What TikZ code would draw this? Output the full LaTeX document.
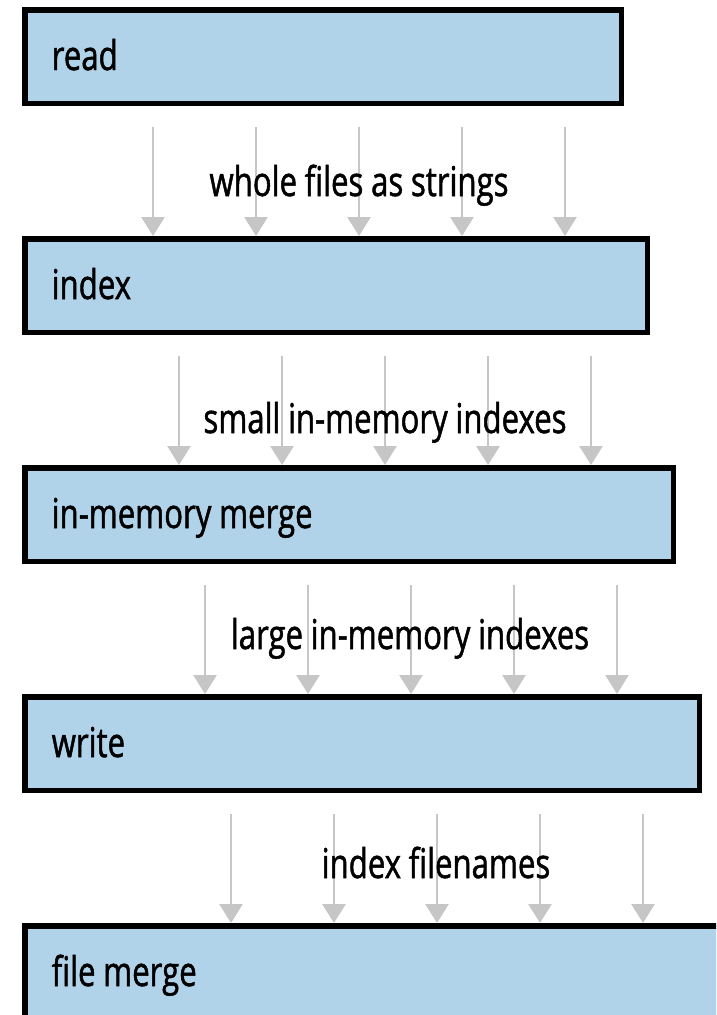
\documentclass[tikz,border=0pt]{standalone}
\usepackage{fontspec}
\setmainfont{Open Sans}[FakeStretch=0.76, FakeBold=1.2, WordSpace=0.95]
\usetikzlibrary{arrows.meta}
\definecolor{stageblue}{RGB}{176,211,233}
\definecolor{flowgray}{RGB}{198,198,198}
\tikzset{
  stage/.style={draw=black, line width=5.5pt, fill=stageblue, anchor=north west,
    inner xsep=27pt, minimum height=93.5pt, text height=40pt, text depth=13pt,
    text width=#1, align=left, execute at begin node={\spaceskip=0pt\xspaceskip=0pt}},
  flow/.style={->, draw=flowgray, line width=2.7pt},
  note/.style={anchor=base}
}
\begin{document}
\begin{tikzpicture}[x=1pt, y=-1pt, >={Triangle[width=23pt,length=19pt]},
  font=\fontsize{41}{48}\selectfont, text=black]
\useasboundingbox (0,0) rectangle (716,1015);
\clip (0,0) rectangle (716,1015);
\node[stage=542.5pt] (read) at (22,7) {read};
\node[stage=568.5pt] (index) at (22,236) {index};
\node[stage=594.5pt] (merge) at (22,465) {in-memory merge};
\node[stage=620.5pt] (write) at (22,694) {write};
\node[stage=646.5pt] (filemerge) at (22,923) {file merge};
\foreach \up/\down/\k in {read/index/0, index/merge/1, merge/write/2, write/filemerge/3} {
  \foreach \i in {0,...,4} {
    \coordinate (s\k\i) at (153+26*\k+103*\i, 127+229*\k);
    \draw[flow] (s\k\i) -- (\down.north -| s\k\i);
  }
}
\node[note] (t0) at (359,196) {whole files as strings};
\node[note] (t1) at (385,433) {small in-memory indexes};
\node[note] (t2) at (410,649) {large in-memory indexes};
\node[note] (t3) at (436,878) {index filenames};
\end{tikzpicture}
\end{document}
